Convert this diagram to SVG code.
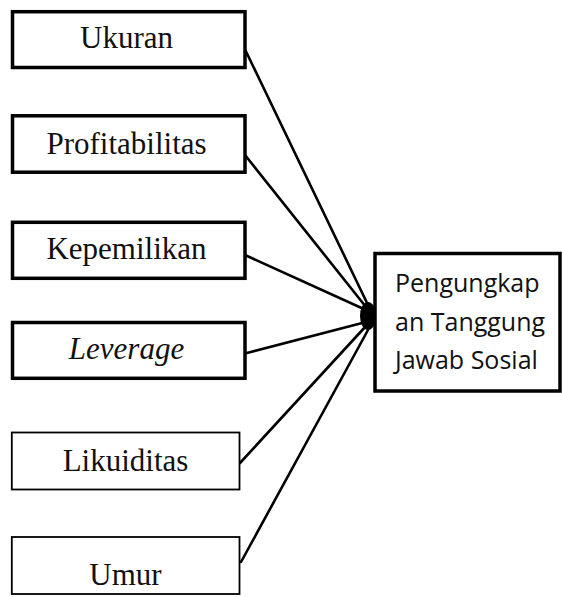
<svg xmlns="http://www.w3.org/2000/svg" width="562" height="597" viewBox="0 0 562 597">
<style>
.box{fill:#fff;stroke:#000;stroke-width:3.5}
.thin{fill:#fff;stroke:#000;stroke-width:1.8}
.lbl{font-family:"Liberation Serif","Times New Roman",serif;font-size:31px;fill:#111;text-anchor:middle}
.tgt{font-family:"Open Sans","Noto Sans",sans-serif;font-size:25px;fill:#111}
.conn line{stroke:#000;stroke-width:2.6;stroke-linecap:round}
</style>
<rect width="562" height="597" fill="#fff"/>
<g id="connectors" class="conn">
<line x1="240" y1="39" x2="368" y2="305"/>
<line x1="241" y1="150" x2="366" y2="307"/>
<line x1="245" y1="255" x2="366" y2="310"/>
<line x1="243" y1="354" x2="366" y2="322"/>
<line x1="240" y1="463" x2="366" y2="326"/>
<line x1="241" y1="562" x2="368" y2="330"/>
<ellipse cx="368" cy="316" rx="8" ry="14" fill="#000"/>
</g>
<g id="ukuran"><rect class="box" x="12.5" y="11.7" width="232.5" height="55.8"/><text class="lbl" x="126.5" y="48.3">Ukuran</text></g>
<g id="profitabilitas"><rect class="box" x="12.5" y="115.8" width="232.5" height="56.4"/><text class="lbl" x="126.5" y="154.3">Profitabilitas</text></g>
<g id="kepemilikan"><rect class="box" x="12.5" y="222.3" width="232.5" height="56"/><text class="lbl" x="126.5" y="259.3">Kepemilikan</text></g>
<g id="leverage"><rect class="box" x="12.5" y="322.5" width="232.5" height="55.8"/><text class="lbl" x="126.5" y="359.3" font-style="italic">Leverage</text></g>
<g id="likuiditas"><rect class="thin" x="11.8" y="432.5" width="227.7" height="57"/><text class="lbl" x="125.5" y="470.7">Likuiditas</text></g>
<g id="umur"><rect class="thin" x="11.8" y="537" width="227.7" height="57"/><text class="lbl" x="125.5" y="585">Umur</text></g>
<g id="pengungkapan"><rect class="box" x="375" y="253.5" width="185" height="137.5"/>
<text class="tgt" x="395" y="292">Pengungkap</text>
<text class="tgt" x="395" y="330.5">an Tanggung</text>
<text class="tgt" x="395" y="369">Jawab Sosial</text></g>
</svg>
